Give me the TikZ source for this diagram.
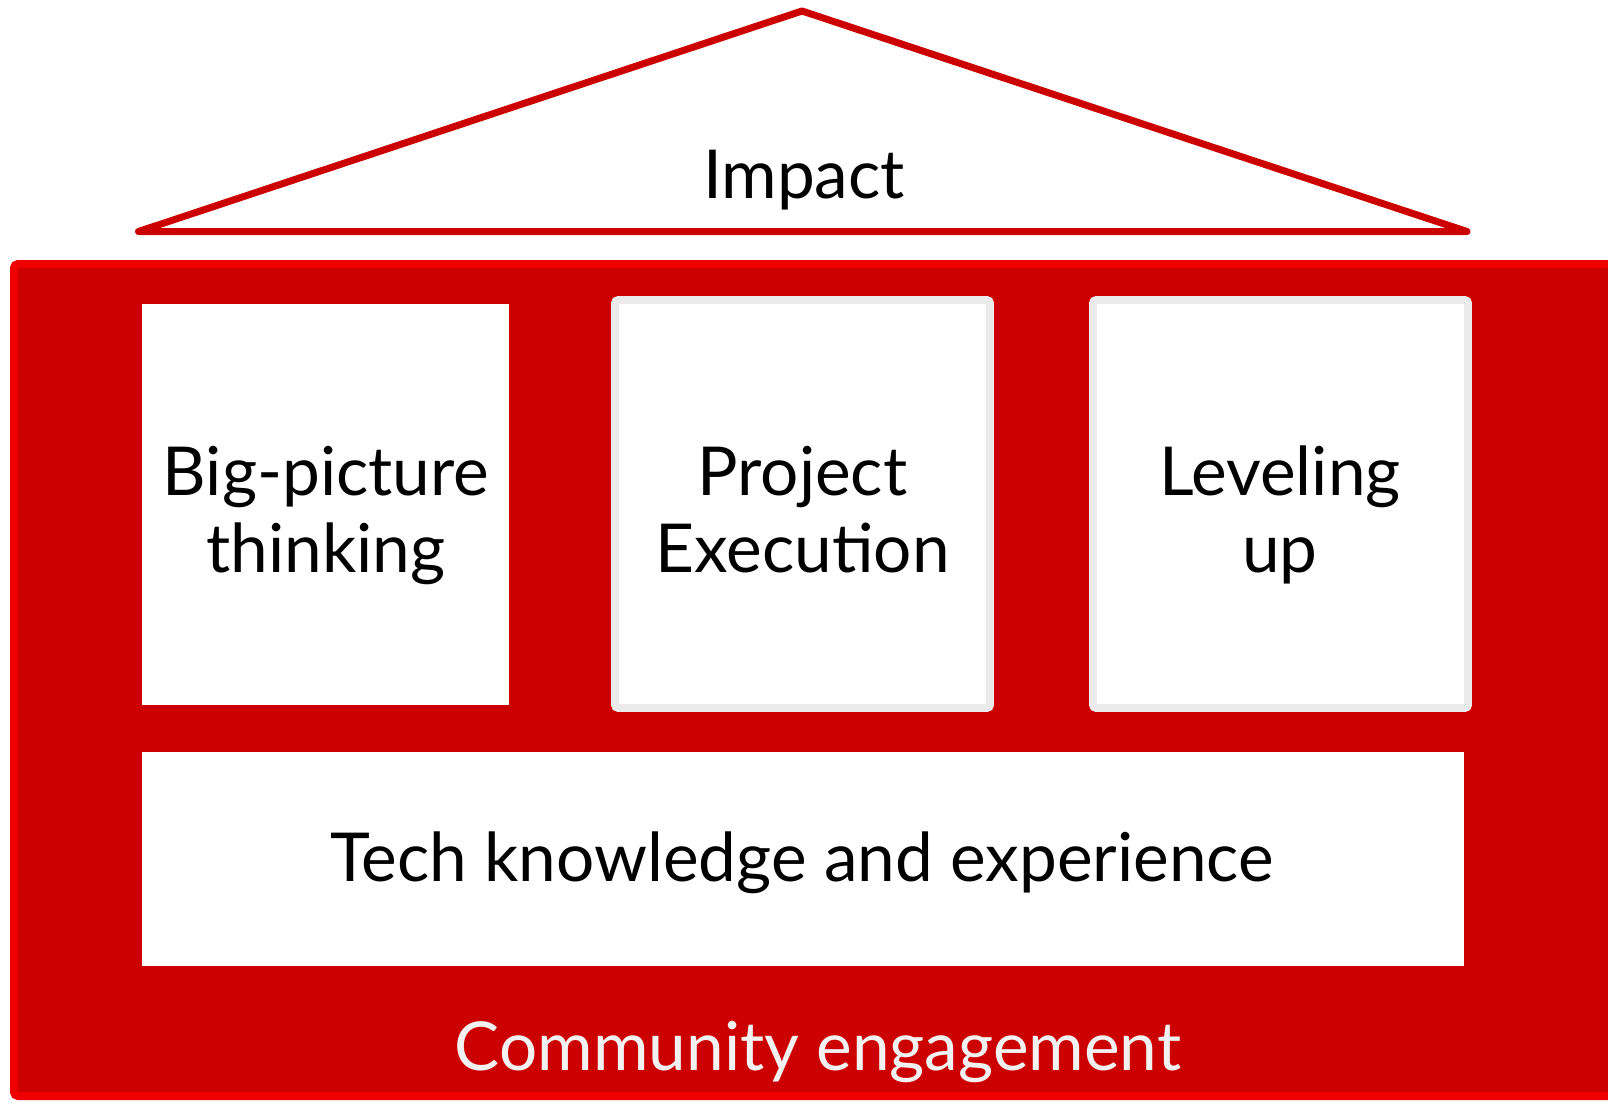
\documentclass[tikz,border=0pt]{standalone}
\usepackage{fontspec}
\setmainfont{Lato}
\definecolor{rhred}{HTML}{CC0000}
\definecolor{rhbright}{HTML}{EE0000}
\definecolor{boxgray}{HTML}{EBEBEB}
\definecolor{softwhite}{HTML}{F2F2F2}
\begin{document}
\begin{tikzpicture}[x=1pt,y=-1pt,
  lbl/.style={font=\fontsize{67.5}{77}\selectfont, align=center, text=black, inner sep=0pt, anchor=base},
  plainbox/.style={fill=white, draw=none},
  graybox/.style={fill=white, draw=boxgray, line width=7.7pt, rounded corners=3pt}]
\useasboundingbox (0,0) rectangle (1608,1103);
\begin{scope}
\clip (0,0) rectangle (1608,1103);
% base
\filldraw[fill=rhred, draw=rhbright, line width=8pt, rounded corners=4pt] (14,264) rectangle (1625,1096);
\end{scope}
% roof
\draw[rhred, line width=7pt, line join=round, fill=white] (138.5,231.5) -- (802,11) -- (1467,231.5) -- cycle;
\node[lbl] (impact) at (804,198) {Impact};
% pillars
\fill[plainbox] (141.5,303.5) rectangle (508.5,704.5);
\node[lbl] (big) at (326,572) {Big-picture\\thinking};
\filldraw[graybox] (615,300) rectangle (990,708);
\node[lbl] (proj) at (802.5,572) {Project\\Execution};
\filldraw[graybox] (1093,300) rectangle (1468,708);
\node[lbl] (lvl) at (1280,572) {Leveling\\up};
% foundation
\fill[plainbox] (141.5,751.5) rectangle (1463.5,966);
\node[lbl] (tech) at (802,881.5) {Tech knowledge and experience};
\node[lbl, text=softwhite] (comm) at (818,1070) {Community engagement};
\end{tikzpicture}
\end{document}
